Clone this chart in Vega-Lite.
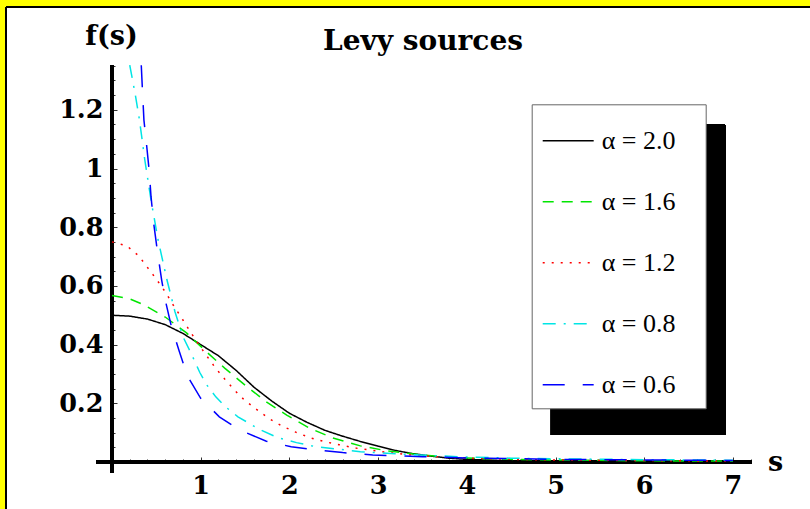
{
  "$schema": "https://vega.github.io/schema/vega-lite/v6.json",
  "width": 804,
  "height": 502,
  "autosize": {"type": "none"},
  "padding": {"left": 6, "top": 7, "right": 0, "bottom": 0},
  "background": "#ffff00",
  "view": {"fill": "white", "stroke": null},
  "title": {
    "text": "Levy sources",
    "font": "DejaVu Serif",
    "fontSize": 28,
    "fontWeight": "bold",
    "color": "black",
    "anchor": "middle",
    "frame": "group",
    "baseline": "alphabetic",
    "offset": 0,
    "dx": 15,
    "dy": 72
  },
  "data": {
    "values": [
      {"s": 0, "f": 0.5, "alpha": "α = 2.0"},
      {"s": 0.2, "f": 0.497, "alpha": "α = 2.0"},
      {"s": 0.4, "f": 0.487, "alpha": "α = 2.0"},
      {"s": 0.6, "f": 0.468, "alpha": "α = 2.0"},
      {"s": 0.8, "f": 0.438, "alpha": "α = 2.0"},
      {"s": 1.0, "f": 0.4, "alpha": "α = 2.0"},
      {"s": 1.2, "f": 0.362, "alpha": "α = 2.0"},
      {"s": 1.4, "f": 0.312, "alpha": "α = 2.0"},
      {"s": 1.6, "f": 0.255, "alpha": "α = 2.0"},
      {"s": 1.8, "f": 0.208, "alpha": "α = 2.0"},
      {"s": 2.0, "f": 0.166, "alpha": "α = 2.0"},
      {"s": 2.2, "f": 0.135, "alpha": "α = 2.0"},
      {"s": 2.4, "f": 0.108, "alpha": "α = 2.0"},
      {"s": 2.6, "f": 0.088, "alpha": "α = 2.0"},
      {"s": 2.8, "f": 0.07, "alpha": "α = 2.0"},
      {"s": 3.0, "f": 0.054, "alpha": "α = 2.0"},
      {"s": 3.2, "f": 0.039, "alpha": "α = 2.0"},
      {"s": 3.4, "f": 0.028, "alpha": "α = 2.0"},
      {"s": 3.6, "f": 0.02, "alpha": "α = 2.0"},
      {"s": 3.8, "f": 0.013, "alpha": "α = 2.0"},
      {"s": 4.0, "f": 0.009, "alpha": "α = 2.0"},
      {"s": 4.5, "f": 0.004, "alpha": "α = 2.0"},
      {"s": 5.0, "f": 0.002, "alpha": "α = 2.0"},
      {"s": 6.0, "f": 0.001, "alpha": "α = 2.0"},
      {"s": 7.0, "f": 0.001, "alpha": "α = 2.0"},

      {"s": 0, "f": 0.567, "alpha": "α = 1.6"},
      {"s": 0.2, "f": 0.556, "alpha": "α = 1.6"},
      {"s": 0.35, "f": 0.537, "alpha": "α = 1.6"},
      {"s": 0.6, "f": 0.494, "alpha": "α = 1.6"},
      {"s": 0.84, "f": 0.44, "alpha": "α = 1.6"},
      {"s": 1.07, "f": 0.374, "alpha": "α = 1.6"},
      {"s": 1.27, "f": 0.32, "alpha": "α = 1.6"},
      {"s": 1.5, "f": 0.262, "alpha": "α = 1.6"},
      {"s": 1.74, "f": 0.205, "alpha": "α = 1.6"},
      {"s": 1.97, "f": 0.16, "alpha": "α = 1.6"},
      {"s": 2.23, "f": 0.115, "alpha": "α = 1.6"},
      {"s": 2.49, "f": 0.082, "alpha": "α = 1.6"},
      {"s": 2.8, "f": 0.055, "alpha": "α = 1.6"},
      {"s": 3.1, "f": 0.038, "alpha": "α = 1.6"},
      {"s": 3.4, "f": 0.027, "alpha": "α = 1.6"},
      {"s": 3.7, "f": 0.019, "alpha": "α = 1.6"},
      {"s": 4.0, "f": 0.014, "alpha": "α = 1.6"},
      {"s": 4.5, "f": 0.009, "alpha": "α = 1.6"},
      {"s": 5.0, "f": 0.007, "alpha": "α = 1.6"},
      {"s": 6.0, "f": 0.004, "alpha": "α = 1.6"},
      {"s": 7.0, "f": 0.003, "alpha": "α = 1.6"},

      {"s": 0, "f": 0.75, "alpha": "α = 1.2"},
      {"s": 0.165, "f": 0.737, "alpha": "α = 1.2"},
      {"s": 0.3, "f": 0.703, "alpha": "α = 1.2"},
      {"s": 0.4, "f": 0.663, "alpha": "α = 1.2"},
      {"s": 0.5, "f": 0.623, "alpha": "α = 1.2"},
      {"s": 0.6, "f": 0.58, "alpha": "α = 1.2"},
      {"s": 0.69, "f": 0.535, "alpha": "α = 1.2"},
      {"s": 0.78, "f": 0.493, "alpha": "α = 1.2"},
      {"s": 0.87, "f": 0.45, "alpha": "α = 1.2"},
      {"s": 0.96, "f": 0.408, "alpha": "α = 1.2"},
      {"s": 1.06, "f": 0.365, "alpha": "α = 1.2"},
      {"s": 1.16, "f": 0.323, "alpha": "α = 1.2"},
      {"s": 1.27, "f": 0.283, "alpha": "α = 1.2"},
      {"s": 1.38, "f": 0.245, "alpha": "α = 1.2"},
      {"s": 1.5, "f": 0.209, "alpha": "α = 1.2"},
      {"s": 1.64, "f": 0.177, "alpha": "α = 1.2"},
      {"s": 1.77, "f": 0.148, "alpha": "α = 1.2"},
      {"s": 1.92, "f": 0.122, "alpha": "α = 1.2"},
      {"s": 2.07, "f": 0.102, "alpha": "α = 1.2"},
      {"s": 2.23, "f": 0.083, "alpha": "α = 1.2"},
      {"s": 2.4, "f": 0.069, "alpha": "α = 1.2"},
      {"s": 2.56, "f": 0.059, "alpha": "α = 1.2"},
      {"s": 2.73, "f": 0.048, "alpha": "α = 1.2"},
      {"s": 3.05, "f": 0.035, "alpha": "α = 1.2"},
      {"s": 3.3, "f": 0.026, "alpha": "α = 1.2"},
      {"s": 3.6, "f": 0.019, "alpha": "α = 1.2"},
      {"s": 4.0, "f": 0.013, "alpha": "α = 1.2"},
      {"s": 4.5, "f": 0.009, "alpha": "α = 1.2"},
      {"s": 5.0, "f": 0.007, "alpha": "α = 1.2"},
      {"s": 6.0, "f": 0.005, "alpha": "α = 1.2"},
      {"s": 7.0, "f": 0.003, "alpha": "α = 1.2"},

      {"s": 0.2, "f": 1.352, "alpha": "α = 0.8"},
      {"s": 0.26, "f": 1.256, "alpha": "α = 0.8"},
      {"s": 0.31, "f": 1.165, "alpha": "α = 0.8"},
      {"s": 0.37, "f": 1.029, "alpha": "α = 0.8"},
      {"s": 0.44, "f": 0.892, "alpha": "α = 0.8"},
      {"s": 0.52, "f": 0.756, "alpha": "α = 0.8"},
      {"s": 0.62, "f": 0.62, "alpha": "α = 0.8"},
      {"s": 0.71, "f": 0.512, "alpha": "α = 0.8"},
      {"s": 0.8, "f": 0.427, "alpha": "α = 0.8"},
      {"s": 0.9, "f": 0.365, "alpha": "α = 0.8"},
      {"s": 0.99, "f": 0.305, "alpha": "α = 0.8"},
      {"s": 1.07, "f": 0.262, "alpha": "α = 0.8"},
      {"s": 1.17, "f": 0.222, "alpha": "α = 0.8"},
      {"s": 1.28, "f": 0.188, "alpha": "α = 0.8"},
      {"s": 1.42, "f": 0.154, "alpha": "α = 0.8"},
      {"s": 1.67, "f": 0.11, "alpha": "α = 0.8"},
      {"s": 1.87, "f": 0.083, "alpha": "α = 0.8"},
      {"s": 2.08, "f": 0.066, "alpha": "α = 0.8"},
      {"s": 2.3, "f": 0.052, "alpha": "α = 0.8"},
      {"s": 2.57, "f": 0.043, "alpha": "α = 0.8"},
      {"s": 2.8, "f": 0.035, "alpha": "α = 0.8"},
      {"s": 3.2, "f": 0.028, "alpha": "α = 0.8"},
      {"s": 3.6, "f": 0.022, "alpha": "α = 0.8"},
      {"s": 4.0, "f": 0.017, "alpha": "α = 0.8"},
      {"s": 4.5, "f": 0.013, "alpha": "α = 0.8"},
      {"s": 5.0, "f": 0.011, "alpha": "α = 0.8"},
      {"s": 6.0, "f": 0.008, "alpha": "α = 0.8"},
      {"s": 7.0, "f": 0.006, "alpha": "α = 0.8"},

      {"s": 0.33, "f": 1.352, "alpha": "α = 0.6"},
      {"s": 0.345, "f": 1.256, "alpha": "α = 0.6"},
      {"s": 0.36, "f": 1.165, "alpha": "α = 0.6"},
      {"s": 0.39, "f": 1.08, "alpha": "α = 0.6"},
      {"s": 0.42, "f": 0.99, "alpha": "α = 0.6"},
      {"s": 0.44, "f": 0.904, "alpha": "α = 0.6"},
      {"s": 0.47, "f": 0.813, "alpha": "α = 0.6"},
      {"s": 0.51, "f": 0.722, "alpha": "α = 0.6"},
      {"s": 0.56, "f": 0.62, "alpha": "α = 0.6"},
      {"s": 0.6, "f": 0.552, "alpha": "α = 0.6"},
      {"s": 0.67, "f": 0.461, "alpha": "α = 0.6"},
      {"s": 0.76, "f": 0.376, "alpha": "α = 0.6"},
      {"s": 0.85, "f": 0.293, "alpha": "α = 0.6"},
      {"s": 1.0, "f": 0.217, "alpha": "α = 0.6"},
      {"s": 1.21, "f": 0.154, "alpha": "α = 0.6"},
      {"s": 1.44, "f": 0.109, "alpha": "α = 0.6"},
      {"s": 1.74, "f": 0.071, "alpha": "α = 0.6"},
      {"s": 2.02, "f": 0.052, "alpha": "α = 0.6"},
      {"s": 2.32, "f": 0.041, "alpha": "α = 0.6"},
      {"s": 2.6, "f": 0.032, "alpha": "α = 0.6"},
      {"s": 2.94, "f": 0.024, "alpha": "α = 0.6"},
      {"s": 3.5, "f": 0.018, "alpha": "α = 0.6"},
      {"s": 4.0, "f": 0.014, "alpha": "α = 0.6"},
      {"s": 5.0, "f": 0.009, "alpha": "α = 0.6"},
      {"s": 6.0, "f": 0.007, "alpha": "α = 0.6"},
      {"s": 7.0, "f": 0.005, "alpha": "α = 0.6"}
    ]
  },
  "resolve": {"axis": {"x": "independent", "y": "independent"}},
  "layer": [
    {
      "mark": {"type": "rule", "color": "black", "strokeWidth": 2},
      "encoding": {
        "x": {"datum": -1.195, "type": "quantitative", "scale": {"domain": [-1.195, 7.869], "nice": false, "zero": false}, "axis": null},
        "y": {"datum": -0.1601, "type": "quantitative", "scale": {"domain": [-0.1601, 1.5503], "nice": false, "zero": false},
          "axis": {"orient": "left", "offset": -106, "title": null, "labels": false, "domain": false, "grid": false,
            "values": [0.05,0.1,0.15,0.25,0.3,0.35,0.45,0.5,0.55,0.65,0.7,0.75,0.85,0.9,0.95,1.05,1.1,1.15,1.25,1.3,1.35],
            "tickSize": -3, "tickColor": "#333", "tickWidth": 1}},
        "y2": {"datum": 1.5503}
      }
    },
    {
      "mark": {"type": "rule", "color": "black", "strokeWidth": 2},
      "encoding": {
        "x": {"datum": -1.195, "type": "quantitative", "scale": {"domain": [-1.195, 7.869], "nice": false, "zero": false},
          "axis": {"orient": "bottom", "offset": -47, "title": null, "labels": false, "domain": false, "grid": false,
            "values": [0.2,0.4,0.6,0.8,1.2,1.4,1.6,1.8,2.2,2.4,2.6,2.8,3.2,3.4,3.6,3.8,4.2,4.4,4.6,4.8,5.2,5.4,5.6,5.8,6.2,6.4,6.6,6.8,7.2],
            "tickSize": -3, "tickColor": "#333", "tickWidth": 1}},
        "x2": {"datum": 7.869},
        "y": {"datum": 1.5503, "type": "quantitative", "scale": {"domain": [-0.1601, 1.5503], "nice": false, "zero": false}, "axis": null}
      }
    },
    {
      "mark": {"type": "rect", "color": "black"},
      "encoding": {
        "x": {"datum": 4.949, "type": "quantitative", "scale": {"domain": [-1.195, 7.869], "nice": false, "zero": false}, "axis": null},
        "x2": {"datum": 6.911},
        "y": {"datum": 0.092, "type": "quantitative", "scale": {"domain": [-0.1601, 1.5503], "nice": false, "zero": false}, "axis": null},
        "y2": {"datum": 1.1506}
      }
    },
    {
      "mark": {"type": "rule", "color": "black", "strokeWidth": 3.3},
      "encoding": {
        "x": {"datum": -0.18, "type": "quantitative", "scale": {"domain": [-1.195, 7.869], "nice": false, "zero": false},
          "axis": {"orient": "bottom", "offset": -47, "title": null, "labels": false, "domain": false, "grid": false,
            "values": [1,2,3,4,5,6,7], "tickSize": -5, "tickColor": "#333", "tickWidth": 1}},
        "x2": {"datum": 7.21},
        "y": {"datum": 0, "type": "quantitative", "scale": {"domain": [-0.1601, 1.5503], "nice": false, "zero": false}, "axis": null}
      }
    },
    {
      "mark": {"type": "rule", "color": "black", "strokeWidth": 3.3},
      "encoding": {
        "x": {"datum": 0, "type": "quantitative", "scale": {"domain": [-1.195, 7.869], "nice": false, "zero": false}, "axis": null},
        "y": {"datum": -0.037, "type": "quantitative", "scale": {"domain": [-0.1601, 1.5503], "nice": false, "zero": false},
          "axis": {"orient": "left", "offset": -106, "title": null, "labels": false, "domain": false, "grid": false,
            "values": [0.2,0.4,0.6,0.8,1,1.2], "tickSize": -5, "tickColor": "#333", "tickWidth": 1}},
        "y2": {"datum": 1.352}
      }
    },
    {
      "mark": {"type": "line", "strokeWidth": 1.5},
      "encoding": {
        "x": {"field": "s", "type": "quantitative", "scale": {"domain": [-1.195, 7.869], "nice": false, "zero": false},
          "axis": {"orient": "bottom", "offset": -47, "title": "s", "domain": false, "grid": false, "ticks": false,
            "values": [1,2,3,4,5,6,7], "format": "d",
            "labelFont": "DejaVu Serif", "labelFontSize": 25.5, "labelFontWeight": "bold", "labelColor": "black",
            "labelPadding": 11, "labelBaseline": "top",
            "titleFont": "DejaVu Serif", "titleFontSize": 27, "titleFontWeight": "bold", "titleColor": "black",
            "titleX": 769, "titleY": 8, "titleAlign": "center", "titleBaseline": "alphabetic"}},
        "y": {"field": "f", "type": "quantitative", "scale": {"domain": [-0.1601, 1.5503], "nice": false, "zero": false},
          "axis": {"orient": "left", "offset": -106, "title": "f(s)", "domain": false, "grid": false, "ticks": false,
            "values": [0.2,0.4,0.6,0.8,1,1.2], "format": "~g",
            "labelFont": "DejaVu Serif", "labelFontSize": 25.5, "labelFontWeight": "bold", "labelColor": "black",
            "labelPadding": 9,
            "titleFont": "DejaVu Serif", "titleFontSize": 27, "titleFontWeight": "bold", "titleColor": "black",
            "titleAngle": 0, "titleX": -1, "titleY": 37, "titleAlign": "center", "titleBaseline": "alphabetic"}},
        "order": {"field": "s", "type": "quantitative"},
        "color": {"field": "alpha", "type": "nominal",
          "scale": {"domain": ["α = 2.0", "α = 1.6", "α = 1.2", "α = 0.8", "α = 0.6"], "range": ["black", "#00e600", "#ff0000", "#00e5e5", "#0000ff"]},
          "legend": {"orient": "none", "legendX": 525.7, "legendY": 97.3, "title": null, "padding": 10,
            "fillColor": "white", "strokeColor": "#666", "symbolType": "stroke", "symbolSize": 2600, "symbolStrokeWidth": 1.5,
            "labelFont": "Liberation Serif", "labelFontSize": 26, "labelColor": "black", "labelOffset": 7, "rowPadding": 21,
            "labelExpr": "datum.label + '\u2002\u2005\u200b'"}},
        "strokeDash": {"field": "alpha", "type": "nominal",
          "scale": {"domain": ["α = 2.0", "α = 1.6", "α = 1.2", "α = 0.8", "α = 0.6"], "range": [[1, 0], [11, 8], [2, 7], [13, 8, 2, 8], [22, 18]]},
          "legend": {"orient": "none", "legendX": 525.7, "legendY": 97.3, "title": null, "padding": 10,
            "fillColor": "white", "strokeColor": "#666", "symbolType": "stroke", "symbolSize": 2600, "symbolStrokeWidth": 1.5,
            "labelFont": "Liberation Serif", "labelFontSize": 26, "labelColor": "black", "labelOffset": 7, "rowPadding": 21,
            "labelExpr": "datum.label + '\u2002\u2005\u200b'"}}
      }
    }
  ]
}
